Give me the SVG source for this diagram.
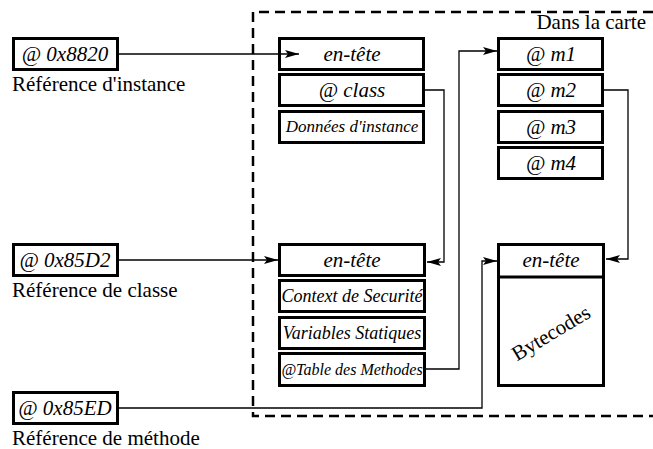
<svg xmlns="http://www.w3.org/2000/svg" width="653" height="449" viewBox="0 0 653 449">
<style>
.box{fill:#fff;stroke:#000;stroke-width:3}
.conn{fill:none;stroke:#000;stroke-width:1.3}
.t{font-family:'Liberation Serif','Times New Roman',serif;font-style:italic;fill:#000;text-anchor:middle}
.lbl{font-family:'Liberation Serif','Times New Roman',serif;font-size:21px;fill:#000}
</style>
<defs>
<marker id="arr" markerUnits="userSpaceOnUse" markerWidth="16" markerHeight="10" refX="14" refY="4" orient="auto">
<path d="M0,0 L14,4 L0,8 L3,4 z" fill="#000"/>
</marker>
</defs>
<rect width="653" height="449" fill="#fff"/>
<path d="M653,12 H253 V416 H653" fill="none" stroke="#000" stroke-width="2.5" stroke-dasharray="10,6"/>
<text class="lbl" x="646" y="29" text-anchor="end">Dans la carte</text>

<g id="ref-instance">
<rect class="box" x="13.5" y="38.5" width="104" height="31"/>
<text class="t" x="65" y="61" font-size="21">@ 0x8820</text>
<text class="lbl" x="12" y="91">Référence d'instance</text>
</g>
<g id="ref-classe">
<rect class="box" x="13.5" y="244.5" width="104" height="31"/>
<text class="t" x="65" y="267" font-size="21">@ 0x85D2</text>
<text class="lbl" x="12" y="297">Référence de classe</text>
</g>
<g id="ref-methode">
<rect class="box" x="13.5" y="392.5" width="104" height="31"/>
<text class="t" x="65" y="415" font-size="21">@ 0x85ED</text>
<text class="lbl" x="12" y="445">Référence de méthode</text>
</g>

<g id="instance">
<rect class="box" x="279.5" y="38.5" width="144" height="31"/>
<text class="t" x="352" y="61" font-size="21">en-tête</text>
<rect class="box" x="279.5" y="74.5" width="144" height="31"/>
<text class="t" x="352" y="97" font-size="21">@ class</text>
<rect class="box" x="279.5" y="111.5" width="144" height="31"/>
<text class="t" x="352" y="132" font-size="17">Données d'instance</text>
</g>

<g id="table-methodes">
<rect class="box" x="498.5" y="38.5" width="104" height="31"/>
<text class="t" x="551" y="61" font-size="21">@ m1</text>
<rect class="box" x="498.5" y="74.5" width="104" height="31"/>
<text class="t" x="551" y="97" font-size="21">@ m2</text>
<rect class="box" x="498.5" y="111.5" width="104" height="31"/>
<text class="t" x="551" y="134" font-size="21">@ m3</text>
<rect class="box" x="498.5" y="147.5" width="104" height="31"/>
<text class="t" x="551" y="170" font-size="21">@ m4</text>
</g>

<g id="classe">
<rect class="box" x="279.5" y="244.5" width="145" height="31"/>
<text class="t" x="352" y="267" font-size="21">en-tête</text>
<rect class="box" x="279.5" y="280.5" width="145" height="31"/>
<text class="t" x="352" y="302" font-size="18">Context de Securité</text>
<rect class="box" x="279.5" y="317.5" width="145" height="31"/>
<text class="t" x="352" y="339" font-size="18">Variables Statiques</text>
<rect class="box" x="279.5" y="353.5" width="145" height="32"/>
<text class="t" x="352" y="375" font-size="16">@Table des Methodes</text>
</g>

<g id="methode">
<rect class="box" x="498.5" y="244.5" width="105" height="141"/>
<line x1="498.5" y1="277" x2="603.5" y2="277" stroke="#000" stroke-width="3"/>
<text class="t" x="551" y="267" font-size="21">en-tête</text>
<text class="lbl" x="551" y="340" font-size="22" text-anchor="middle" transform="rotate(-31 551 333)">Bytecodes</text>
</g>

<g id="connectors">
<path class="conn" d="M119,54 H299" marker-end="url(#arr)"/>
<path class="conn" d="M425,90 H444 V262 H427" marker-end="url(#arr)"/>
<path class="conn" d="M426,369 H459 V51 H497" marker-end="url(#arr)"/>
<path class="conn" d="M604,90 H628 V259 H606" marker-end="url(#arr)"/>
<path class="conn" d="M119,260 H278" marker-end="url(#arr)"/>
<path class="conn" d="M119,408 H482 V261 H497" marker-end="url(#arr)"/>
</g>
</svg>
